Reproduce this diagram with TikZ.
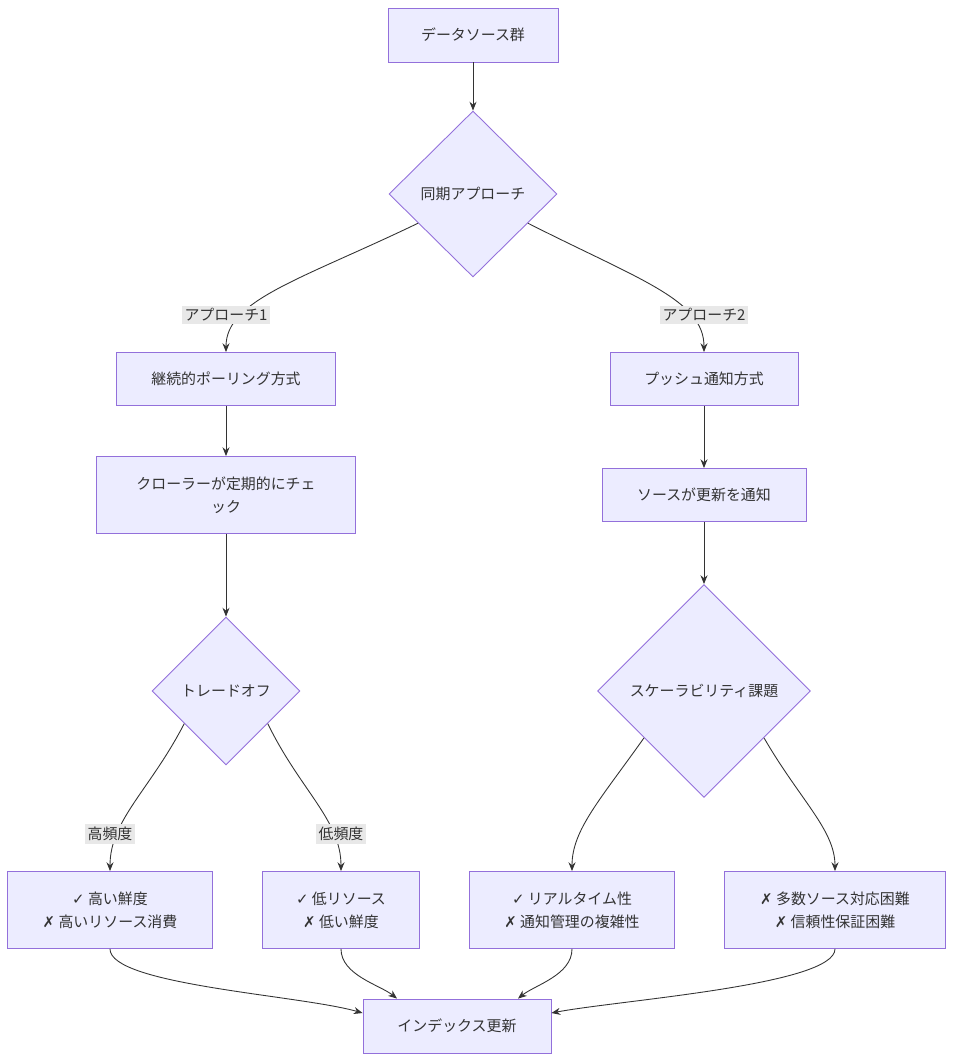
\documentclass[tikz,border=0pt]{standalone}
\usepackage{fontspec}
\setmainfont{Noto Sans CJK JP}
\newfontfamily\symf{DejaVu Sans}
\usetikzlibrary{arrows.meta,shapes.geometric}
\definecolor{boxfill}{HTML}{ECECFF}
\definecolor{boxline}{HTML}{9370DB}
\definecolor{edgecol}{HTML}{333333}
\definecolor{lblfill}{HTML}{E8E8E8}
\newcommand{\markok}{{\symf ✓}}
\newcommand{\markng}{{\symf ✗}}
\newdimen\pxu \pxu=0.5691pt
\begin{document}
\begin{tikzpicture}[x=0.02cm,y=-0.02cm,
    font=\fontsize{8.5pt}{13pt}\selectfont, text=edgecol,
    box/.style={draw=boxline, fill=boxfill, line width=0.5pt, align=center, inner sep=0pt},
    choice/.style={diamond, draw=boxline, fill=boxfill, line width=0.5pt, inner sep=0pt, aspect=1},
    lbl/.style={fill=lblfill, inner sep=1.5pt},
    flow/.style={draw=edgecol, line width=0.5pt, -{Stealth[length=5pt,width=4pt]}}]
    \useasboundingbox (0,0) rectangle (954,1062);

    % top
    \node[box, minimum width=170\pxu, minimum height=54\pxu] (src) at (473,35) {データソース群};
    \node[choice, minimum width=168\pxu, minimum height=166\pxu] (sync) at (473,194) {同期アプローチ};

    % polling side
    \node[box, minimum width=219\pxu, minimum height=53\pxu] (poll) at (226,379) {継続的ポーリング方式};
    \node[box, minimum width=259\pxu, minimum height=77\pxu] (crawl) at (226,495) {クローラーが定期的にチェ\\ック};
    \node[choice, minimum width=148\pxu, minimum height=148\pxu] (trade) at (226,691) {トレードオフ};

    % push side
    \node[box, minimum width=188\pxu, minimum height=53\pxu] (push) at (704,379) {プッシュ通知方式};
    \node[box, minimum width=204\pxu, minimum height=53\pxu] (notify) at (704,495) {ソースが更新を通知};
    \node[choice, minimum width=213\pxu, minimum height=213\pxu] (scal) at (704,691) {スケーラビリティ課題};

    % outcomes
    \node[box, minimum width=205\pxu, minimum height=77\pxu] (hifreq) at (110,910) {\markok{} 高い鮮度\\\markng{} 高いリソース消費};
    \node[box, minimum width=157\pxu, minimum height=77\pxu] (lofreq) at (341,910) {\markok{} 低リソース\\\markng{} 低い鮮度};
    \node[box, minimum width=205\pxu, minimum height=77\pxu] (real) at (572,910) {\markok{} リアルタイム性\\\markng{} 通知管理の複雑性};
    \node[box, minimum width=221\pxu, minimum height=77\pxu] (multi) at (835,910) {\markng{} 多数ソース対応困難\\\markng{} 信頼性保証困難};
    \node[box, minimum width=188\pxu, minimum height=54\pxu] (idx) at (457,1026) {インデックス更新};

    % connectors
    \draw[flow] (src) -- (sync);
    \draw[flow] (sync.208) .. controls (300,280) and (226,300) .. (poll.north);
    \draw[flow] (sync.332) .. controls (640,280) and (704,300) .. (push.north);
    \draw[flow] (poll) -- (crawl);
    \draw[flow] (crawl) -- (trade);
    \draw[flow] (push) -- (notify);
    \draw[flow] (notify) -- (scal);
    \draw[flow] (trade.218) .. controls (150,790) and (110,820) .. (hifreq.north);
    \draw[flow] (trade.322) .. controls (300,790) and (341,820) .. (lofreq.north);
    \draw[flow] (scal.218) .. controls (600,800) and (572,830) .. (real.north);
    \draw[flow] (scal.322) .. controls (800,800) and (835,830) .. (multi.north);
    \draw[flow] (hifreq.south) .. controls (110,985) and (300,995) .. (idx.west |- 0,1013);
    \draw[flow] (lofreq.south) .. controls (341,975) and (380,985) .. (idx.north -| 397,0);
    \draw[flow] (real.south) .. controls (572,975) and (535,985) .. (idx.north -| 518,0);
    \draw[flow] (multi.south) .. controls (835,985) and (620,1000) .. (idx.east |- 0,1013);

    % edge labels
    \node[lbl] (a1) at (226,315) {アプローチ1};
    \node[lbl] (a2) at (704,315) {アプローチ2};
    \node[lbl] (hf) at (110,834) {高頻度};
    \node[lbl] (lf) at (341,834) {低頻度};
\end{tikzpicture}
\end{document}
